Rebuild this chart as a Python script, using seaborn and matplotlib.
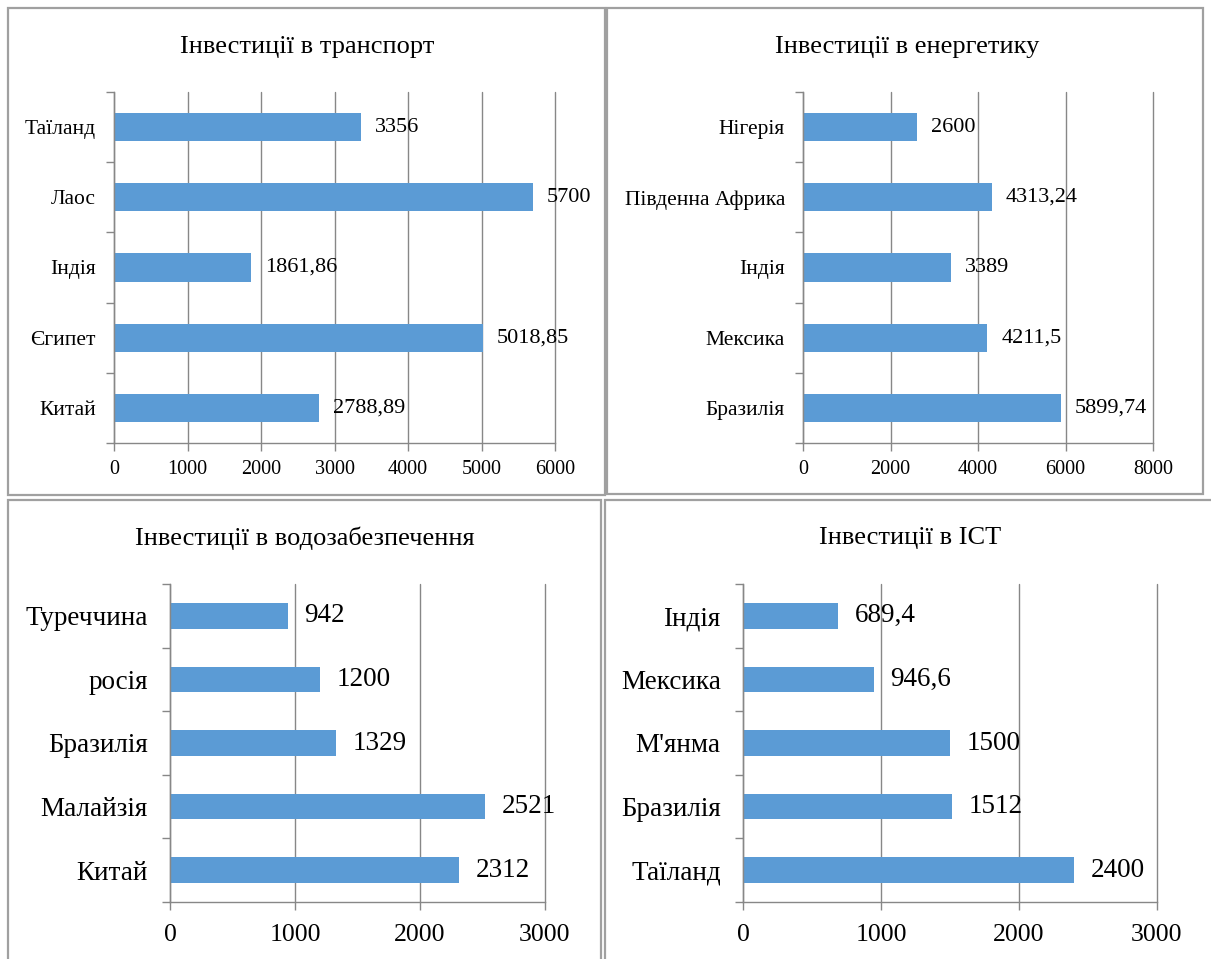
import numpy as np
import matplotlib
matplotlib.use("Agg")
import matplotlib.pyplot as plt
from matplotlib.patches import Rectangle
import seaborn as sns

# --- data -------------------------------------------------------------
transport_countries = ["Таїланд", "Лаос", "Індія", "Єгипет", "Китай"]
transport_values = [3356, 5700, 1861.86, 5018.85, 2788.89]

energy_countries = ["Нігерія", "Південна Африка", "Індія", "Мексика", "Бразилія"]
energy_values = [2600, 4313.24, 3389, 4211.5, 5899.74]

water_countries = ["Туреччина", "росія", "Бразилія", "Малайзія", "Китай"]
water_values = [942, 1200, 1329, 2521, 2312]

ict_countries = ["Індія", "Мексика", "М'янма", "Бразилія", "Таїланд"]
ict_values = [689.4, 946.6, 1500, 1512, 2400]

titles = ["Інвестиції в транспорт", "Інвестиції в енергетику",
          "Інвестиції в водозабезпечення", "Інвестиції в ІСТ"]
x_limits = [6000, 8000, 3000, 3000]
x_steps = [1000, 2000, 1000, 1000]

# --- style ------------------------------------------------------------
sns.set_theme(style="white")
plt.rcParams["font.family"] = ["Liberation Serif", "DejaVu Serif"]

BAR = "#5B9BD5"
GRID = "#878787"
FRAME = "#A0A0A0"

W, H = 1211, 959
fig = plt.figure(figsize=(W / 100, H / 100), dpi=100)
fig.patch.set_facecolor("white")


def px_box(left, top, right, bottom):
    """Convert a pixel box (top-left origin) to figure-fraction rect."""
    return [left / W, (H - bottom) / H, (right - left) / W, (bottom - top) / H]


# panel frames
frames = [(8, 8, 605, 495), (607, 8, 1203, 494),
          (8, 500, 601, 962), (605, 500, 1214, 962)]
for l, t, r, b in frames:
    x0, y0, w, h = px_box(l, t, r, b)
    fig.add_artist(Rectangle((x0, y0), w, h, transform=fig.transFigure,
                             fill=False, edgecolor=FRAME, linewidth=1.6))

axes_boxes = [(114, 92, 555, 443), (803, 92, 1153, 443),
              (170, 584, 545, 902), (743, 584, 1157, 902)]
title_pos = [(307, 47), (907, 47), (305, 538), (910, 538)]
ylabel_size = [15.5, 15.5, 19.5, 19.5]
xlabel_size = [14.5, 14.5, 18.5, 18.5]
value_size = [16, 16, 19.5, 19.5]
ylab_pad = [13, 13, 16, 16]
xlab_pad = [6, 6, 10, 10]
value_pad = [10, 10, 12, 12]

datasets = [(transport_countries, transport_values),
            (energy_countries, energy_values),
            (water_countries, water_values),
            (ict_countries, ict_values)]


def fmt(v):
    return f"{v:g}".replace(".", ",")


for i, (cats, vals) in enumerate(datasets):
    ax = fig.add_axes(px_box(*axes_boxes[i]))
    sns.barplot(x=vals, y=cats, orient="h", color=BAR, saturation=1,
                width=0.4, linewidth=0, ax=ax)
    ax.set_xlim(0, x_limits[i])
    ax.set_ylim(len(cats) - 0.5, -0.5)
    ax.set_xlabel("")
    ax.set_ylabel("")

    # x axis: ticks, labels and vertical gridlines
    xt = np.arange(0, x_limits[i] + 1, x_steps[i])
    ax.set_xticks(xt)
    ax.set_xticklabels([str(int(v)) for v in xt], fontsize=xlabel_size[i])
    ax.xaxis.grid(True, color=GRID, linewidth=1)
    ax.yaxis.grid(False)
    ax.set_axisbelow(True)
    for gl in ax.get_xgridlines():
        gl.set_clip_on(False)

    # y axis: tick marks between categories, labels at category centres
    ax.set_yticks(np.arange(-0.5, len(cats), 1))
    ax.set_yticklabels([])
    ax.set_yticks(np.arange(len(cats)), minor=True)
    ax.set_yticklabels(cats, minor=True, fontsize=ylabel_size[i])
    ax.tick_params(axis="y", which="major", direction="out", length=6,
                   width=1, color=GRID, left=True)
    ax.tick_params(axis="y", which="minor", length=0, left=True,
                   pad=ylab_pad[i], labelcolor="black")
    ax.tick_params(axis="x", which="major", direction="out", length=6,
                   width=1, color=GRID, bottom=True, pad=xlab_pad[i],
                   labelcolor="black")

    for side in ("top", "right"):
        ax.spines[side].set_visible(False)
    for side in ("left", "bottom"):
        ax.spines[side].set_visible(True)
        ax.spines[side].set_color(GRID)
        ax.spines[side].set_linewidth(1)

    ax.bar_label(ax.containers[0], labels=[fmt(v) for v in vals],
                 padding=value_pad[i], fontsize=value_size[i], color="black")

    tx, ty = title_pos[i]
    fig.text(tx / W, 1 - ty / H, titles[i], ha="center", va="center",
             fontsize=19, color="black")

fig.savefig("out.png", dpi=100, facecolor="white")
